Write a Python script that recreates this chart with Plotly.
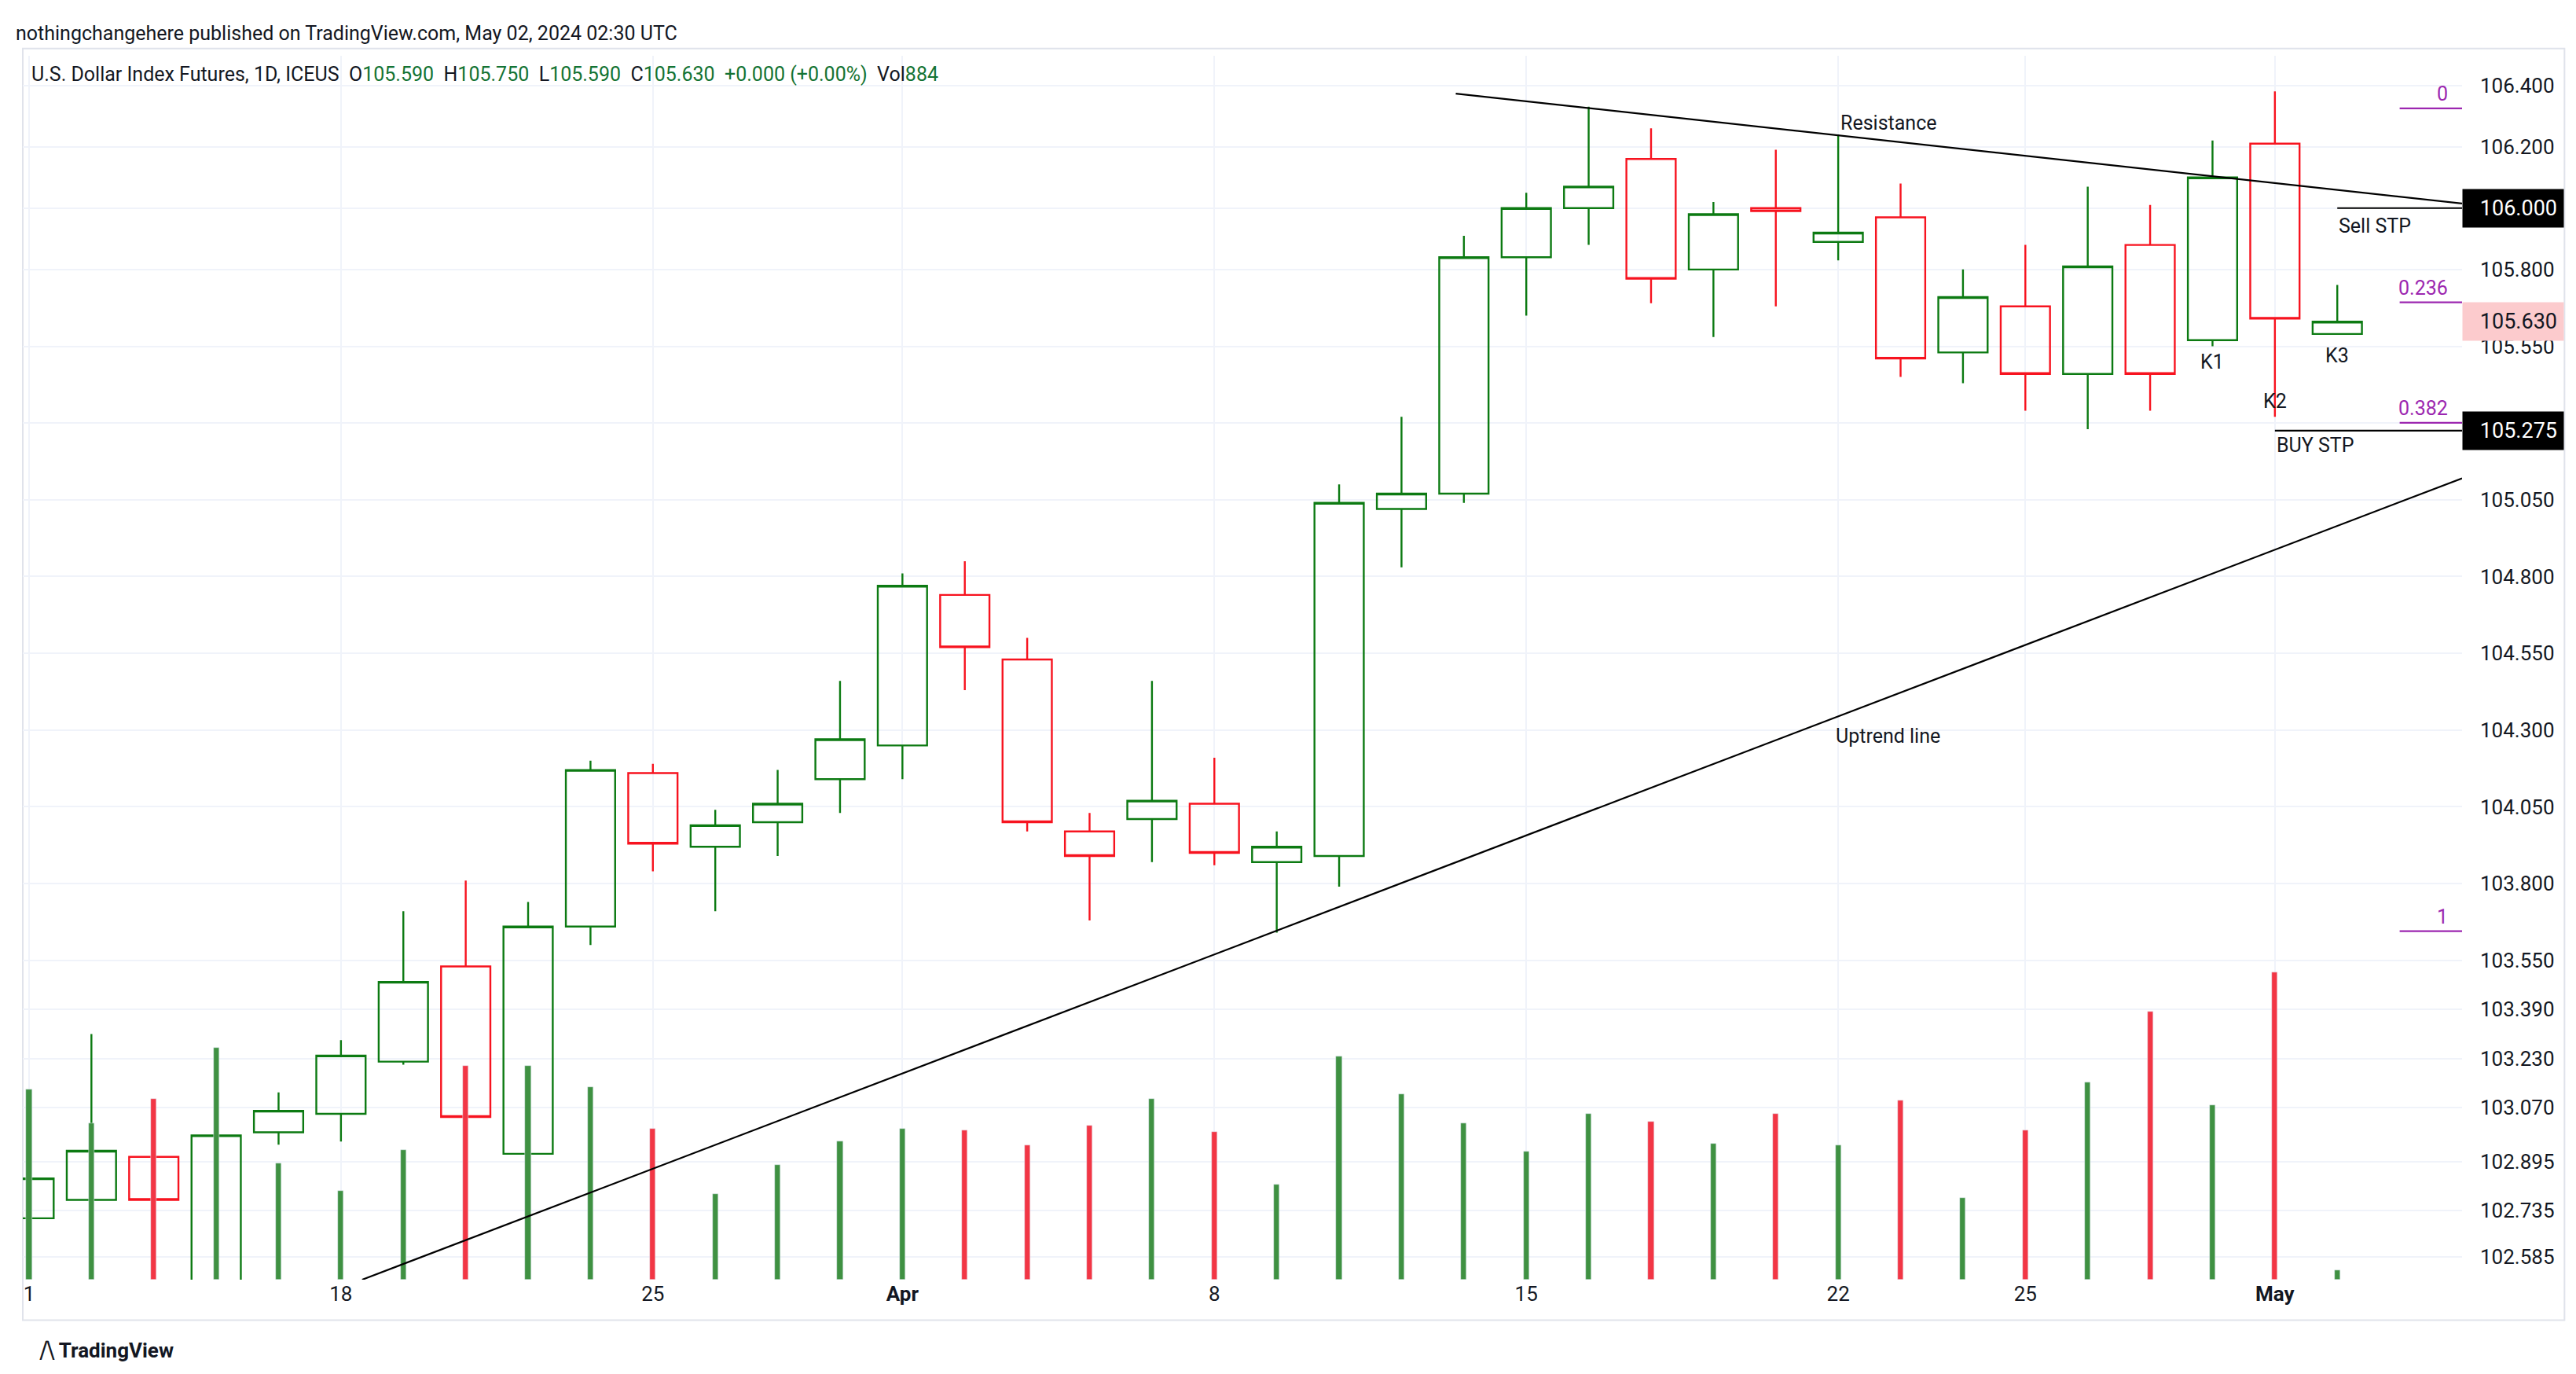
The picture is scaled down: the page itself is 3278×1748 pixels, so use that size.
import plotly.graph_objects as go

dates = ["Mar 11","Mar 12","Mar 13","Mar 14","Mar 15","Mar 18","Mar 19","Mar 20","Mar 21","Mar 22",
         "Mar 25","Mar 26","Mar 27","Mar 28","Apr 1","Apr 2","Apr 3","Apr 4","Apr 5","Apr 8",
         "Apr 9","Apr 10","Apr 11","Apr 12","Apr 15","Apr 16","Apr 17","Apr 18","Apr 19","Apr 22",
         "Apr 23","Apr 24","Apr 25","Apr 26","Apr 29","Apr 30","May 1","May 2"]
opens  = [102.71,102.77,102.91,102.50,102.99,103.05,103.22,103.53,102.92,103.66,
          104.16,103.92,104.00,104.14,104.25,104.74,104.53,103.97,104.01,104.06,
          103.87,103.89,105.02,105.07,105.84,106.00,106.16,105.80,106.00,105.89,
          105.97,105.53,105.68,105.46,105.88,105.57,106.21,105.59]
highs  = [102.86,103.31,102.92,103.00,103.12,103.29,103.71,103.81,103.74,104.20,
          104.19,104.04,104.17,104.46,104.81,104.85,104.60,104.03,104.46,104.21,
          103.97,105.10,105.32,105.91,106.05,106.33,106.26,106.02,106.19,106.24,
          106.08,105.80,105.88,106.07,106.01,106.22,106.38,105.75]
lows   = [102.70,102.76,102.76,102.48,102.95,102.96,103.21,103.02,102.90,103.60,
          103.84,103.71,103.89,104.03,104.14,104.43,103.97,103.68,103.87,103.86,
          103.64,103.79,104.83,105.04,105.65,105.88,105.69,105.58,105.68,105.83,
          105.45,105.43,105.34,105.28,105.34,105.55,105.32,105.59]
closes = [102.84,102.93,102.77,102.98,103.06,103.24,103.48,103.04,103.66,104.17,
          103.93,103.99,104.06,104.27,104.77,104.57,104.00,103.89,104.07,103.90,
          103.92,105.04,105.07,105.84,106.00,106.07,105.77,105.98,105.99,105.92,
          105.51,105.71,105.46,105.81,105.46,106.10,105.64,105.63]
volumes = [17400,14250,16500,21150,10650,8100,11850,19500,19500,17550,
           13800,7800,10500,12600,13800,13650,12300,14100,16500,13500,
           8700,20400,16950,14250,11700,15150,14400,12450,15150,12300,
           16350,7500,13650,18000,24450,15900,28050,884]

tick_idx = [0, 5, 10, 14, 19, 24, 29, 32, 36]
tick_txt = ["1", "18", "25", "<b>Apr</b>", "8", "15", "22", "25", "<b>May</b>"]
price_ticks = [106.4, 106.2, 106.0, 105.8, 105.55, 105.3, 105.05, 104.8, 104.55, 104.3,
               104.05, 103.8, 103.55, 103.39, 103.23, 103.07, 102.895, 102.735, 102.585]

resist_x, resist_y = [22.87, 39.0], [106.373, 106.015]
uptrend_x, uptrend_y = [5.34, 39.0], [102.51, 105.12]
sell_stp = 106.000
buy_stp = 105.275
last_price = 105.630
fib_levels = [106.325, 105.693, 105.301, 103.645]
fib_labels = ["0", "0.236", "0.382", "1"]
k_labels = [("K1", 35, 105.50), ("K2", 36, 105.37), ("K3", 37, 105.52)]

GREEN = "#0c7a12"
RED = "#f7131f"
x = list(range(len(dates)))
vcolors = ["#3f9142" if c >= o else "#f23645" for o, c in zip(opens, closes)]

fig = go.Figure()
fig.add_trace(go.Bar(x=x, y=volumes, marker_color=vcolors, width=0.09, yaxis="y2",
                     hovertext=dates, showlegend=False))
fig.add_trace(go.Candlestick(
    x=x, open=opens, high=highs, low=lows, close=closes, hovertext=dates,
    increasing=dict(line=dict(color=GREEN, width=2.4), fillcolor="rgba(255,255,255,0)"),
    decreasing=dict(line=dict(color=RED, width=2.4), fillcolor="rgba(255,255,255,0)"),
    whiskerwidth=0, showlegend=False))

font = "Roboto"
shapes = [
    dict(type="line", x0=resist_x[0], x1=resist_x[1], y0=resist_y[0], y1=resist_y[1],
         line=dict(color="black", width=2.2)),
    dict(type="line", x0=uptrend_x[0], x1=uptrend_x[1], y0=uptrend_y[0], y1=uptrend_y[1],
         line=dict(color="black", width=2.2)),
    dict(type="line", x0=37.0, x1=39.0, y0=sell_stp, y1=sell_stp, line=dict(color="black", width=2.2)),
    dict(type="line", x0=36.0, x1=39.0, y0=buy_stp, y1=buy_stp, line=dict(color="black", width=2.2)),
    dict(type="rect", xref="paper", yref="paper", x0=0, x1=1.042, y0=-0.033, y1=1.006,
         line=dict(color="#e0e3eb", width=2), layer="below"),
]
for lv in fib_levels:
    shapes.append(dict(type="line", x0=38.0, x1=39.0, y0=lv, y1=lv,
                       line=dict(color="#9c27b0", width=2.2)))

ann = []
for lv, lb in zip(fib_levels, fib_labels):
    ann.append(dict(x=38.8, y=lv, text=lb, showarrow=False, xanchor="right", yanchor="bottom",
                    yshift=2, font=dict(color="#9c27b0", size=25, family=font)))
for t, xi, yv in k_labels:
    ann.append(dict(x=xi, y=yv, text=t, showarrow=False, xanchor="center", yanchor="middle",
                    font=dict(color="#131722", size=25, family=font)))
ann += [
    dict(x=37.0, y=sell_stp, text="Sell STP", showarrow=False, xanchor="left", yanchor="top", yshift=-6,
         font=dict(color="#131722", size=25, family=font)),
    dict(x=36.0, y=buy_stp, text="BUY STP", showarrow=False, xanchor="left", yanchor="top", yshift=-2,
         font=dict(color="#131722", size=25, family=font)),
    dict(x=29.8, y=106.277, text="Resistance", showarrow=False, xanchor="center",
         font=dict(color="#131722", size=25, family=font)),
    dict(x=29.8, y=104.28, text="Uptrend line", showarrow=False, xanchor="center",
         font=dict(color="#131722", size=25, family=font)),
]
for val, bg, fg in [(sell_stp, "black", "white"), (buy_stp, "black", "white"), (last_price, "#fccbcd", "#131722")]:
    ann.append(dict(xref="paper", x=1.0, y=val, text=f"{val:.3f}", showarrow=False, xanchor="left",
                    bgcolor=bg, font=dict(color=fg, size=27, family=font), borderpad=8,
                    width=112, align="right"))
g = "#137333"
hdr = ("U.S. Dollar Index Futures, 1D, ICEUS&nbsp;&nbsp;O<span style='color:%s'>105.590</span>&nbsp;&nbsp;"
       "H<span style='color:%s'>105.750</span>&nbsp;&nbsp;L<span style='color:%s'>105.590</span>&nbsp;&nbsp;"
       "C<span style='color:%s'>105.630</span>&nbsp;&nbsp;<span style='color:%s'>+0.000 (+0.00%%)</span>"
       "&nbsp;&nbsp;Vol<span style='color:%s'>884</span>") % (g, g, g, g, g, g)
ann += [
    dict(xref="paper", yref="paper", x=-0.0035, y=1.018, text="nothingchangehere published on TradingView.com, May 02, 2024 02:30 UTC",
         showarrow=False, xanchor="left", yanchor="middle", font=dict(color="#131722", size=25, family=font)),
    dict(xref="paper", yref="paper", x=0.003, y=0.985, text=hdr, showarrow=False, xanchor="left",
         yanchor="middle", font=dict(color="#131722", size=25, family=font)),
    dict(xref="paper", yref="paper", x=0.006, y=-0.058, text="<b>⧸⧹ TradingView</b>", showarrow=False,
         xanchor="left", yanchor="middle", font=dict(color="#131722", size=26, family=font)),
]

fig.update_layout(
    width=3278, height=1748, paper_bgcolor="white", plot_bgcolor="white",
    margin=dict(l=21, r=153, t=63, b=128),
    shapes=shapes, annotations=ann, bargap=0, boxgap=0.21, boxgroupgap=0.0, boxmode="overlay",
    showlegend=False,
    xaxis=dict(range=[-0.1, 39.0], tickvals=tick_idx, ticktext=tick_txt, showgrid=True,
               gridcolor="#f0f3fa", gridwidth=2, zeroline=False, rangeslider=dict(visible=False),
               ticks="", tickfont=dict(size=26, color="#131722", family=font), showline=False),
    yaxis=dict(range=[102.51, 106.496], side="right", tickvals=price_ticks,
               ticktext=[f"{v:.3f}" for v in price_ticks], showgrid=True, gridcolor="#f0f3fa",
               gridwidth=2, zeroline=False, ticks="", ticklabelstandoff=22,
               tickfont=dict(size=26, color="#131722", family=font)),
    yaxis2=dict(range=[0, 111750], overlaying="y", visible=False, showgrid=False),
)
fig.write_html("out.html")
